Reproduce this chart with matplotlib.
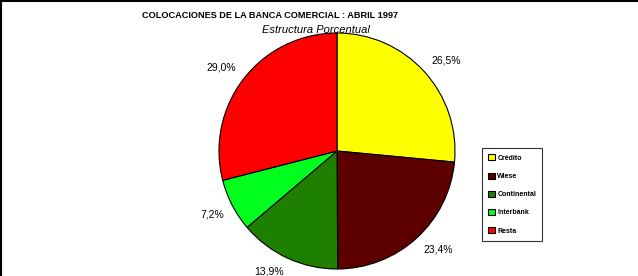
import matplotlib
matplotlib.use("Agg")
import numpy as np
import matplotlib.pyplot as plt
from matplotlib.lines import Line2D

# Data
categories = ["Crédito", "Wiese", "Continental", "Interbank", "Resta"]
shares = [26.5, 23.4, 13.9, 7.2, 29.0]
colors = ["#FFFF00", "#5C0000", "#1E8000", "#00FF1E", "#FF0000"]

plt.rcParams["font.family"] = ["Liberation Sans", "DejaVu Sans"]

W, H = 638, 276
fig = plt.figure(figsize=(W / 100, H / 100), dpi=100)
fig.patch.set_facecolor("white")

# pie axes, centre (337,151) px, radius 118 px
cx, cy, r = 337, 151, 118
ax = fig.add_axes([(cx - r) / W, (H - cy - r) / H, 2 * r / W, 2 * r / H])

wedges, texts, autotexts = ax.pie(
    shares,
    colors=colors,
    startangle=90,
    counterclock=False,
    autopct=lambda p: f"{p:.1f}%".replace(".", ","),
    pctdistance=1.2,
    wedgeprops=dict(edgecolor="black", linewidth=0.8),
    textprops=dict(fontsize=7.5, color="black"),
)
ax.set_aspect("equal")
ax.set_xlim(-1, 1)
ax.set_ylim(-1, 1)

# place labels Excel-style: nearest corner of the label box just outside the rim
fig.canvas.draw()
renderer = fig.canvas.get_renderer()
px_per_unit = r  # 1 data unit = r pixels
for w, t in zip(wedges, autotexts):
    ang = np.deg2rad((w.theta1 + w.theta2) / 2)
    ux, uy = np.cos(ang), np.sin(ang)
    bb = t.get_window_extent(renderer)
    hw = bb.width / 2 / px_per_unit
    hh = bb.height / 2 / px_per_unit
    edge = 1.08
    t.set_position((edge * ux + np.sign(ux) * hw, edge * uy + np.sign(uy) * hh))
    t.set_ha("center")
    t.set_va("center")

fig.text(270 / W, 1 - 15 / H, "COLOCACIONES DE LA BANCA COMERCIAL : ABRIL 1997",
         ha="center", va="center", fontsize=6.6, fontweight="bold")
fig.text(316 / W, 1 - 30 / H, "Estructura Porcentual",
         ha="center", va="center", fontsize=8, style="italic")

leg = fig.legend(wedges, categories, loc="upper left",
                 bbox_to_anchor=(482 / W, 1 - 148 / H),
                 fontsize=5, frameon=True, fancybox=False, edgecolor="black",
                 handlelength=1.0, handleheight=1.0, labelspacing=1.55,
                 borderpad=0.9, handletextpad=0.3, borderaxespad=0)
for t in leg.get_texts():
    t.set_fontweight("bold")
leg.get_frame().set_linewidth(0.8)

# frame lines at left and top edges
fig.add_artist(Line2D([0.5 / W, 0.5 / W], [0, 1], color="black", lw=1.5,
                      transform=fig.transFigure))
fig.add_artist(Line2D([0, 1], [1 - 0.5 / H, 1 - 0.5 / H], color="black", lw=1.5,
                      transform=fig.transFigure))

fig.savefig("out.png", dpi=100)
